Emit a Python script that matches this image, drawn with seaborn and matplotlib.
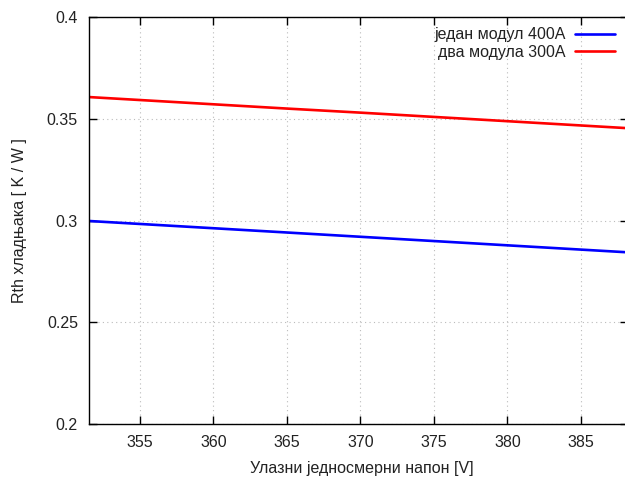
import numpy as np
import pandas as pd
import matplotlib
matplotlib.use("Agg")
import matplotlib.pyplot as plt
import seaborn as sns

# Data
voltage = [350, 355, 360, 365, 370, 375, 380, 385, 390]
rth_one_400 = [0.3004, 0.2983, 0.2962, 0.2941, 0.2920, 0.2899, 0.2878, 0.2857, 0.2836]
rth_two_300 = [0.3613, 0.3592, 0.3571, 0.3550, 0.3530, 0.3509, 0.3488, 0.3467, 0.3446]
series_names = ["један модул 400A", "два модула 300A"]
x_ticks = [355, 360, 365, 370, 375, 380, 385]
y_ticks = [0.2, 0.25, 0.3, 0.35, 0.4]
y_tick_labels = ["0.2", "0.25", "0.3", "0.35", "0.4"]

df = pd.DataFrame({
    "V": voltage * 2,
    "Rth": rth_one_400 + rth_two_300,
    "series": [series_names[0]] * len(voltage) + [series_names[1]] * len(voltage),
})

sns.set_theme(style="white")
plt.rcParams["font.family"] = ["Liberation Sans", "DejaVu Sans"]

FS = 11.5
W, H = 625, 484
fig = plt.figure(figsize=(W / 100, H / 100), dpi=100)
left, right, top, bottom = 89, 628, 17, 424
ax = fig.add_axes([left / W, 1 - bottom / H, (right - left) / W, (bottom - top) / H])

sns.lineplot(data=df, x="V", y="Rth", hue="series", hue_order=series_names,
             palette=["#0000ff", "#ff0000"], linewidth=1.9, ax=ax, legend=True)

ax.set_xlim(351.53, 388.2)
ax.set_ylim(0.2, 0.4)
ax.set_xticks(x_ticks)
ax.set_yticks(y_ticks)
ax.set_yticklabels(y_tick_labels)
ax.grid(True, color="#bbbbbb", linestyle=(0, (1, 3)), linewidth=0.8)
ax.tick_params(axis="both", direction="in", length=6, width=1, color="black",
               labelsize=FS, labelcolor="#222222", top=True, right=True, left=True, bottom=True,
               pad=8)
for s in ax.spines.values():
    s.set_color("black")
    s.set_linewidth(1.0)

ax.set_xlabel("Улазни једносмерни напон [V]", fontsize=FS, color="#222222")
ax.set_ylabel("Rth хладњака [ K / W ]", fontsize=FS, color="#222222")
ax.xaxis.set_label_coords((362 - left) / (right - left), -(468 - bottom) / (bottom - top))
ax.yaxis.set_label_coords(-(89 - 20) / (right - left), 0.5)
ax.xaxis.label.set_va("center")
ax.yaxis.label.set_va("center")

leg = ax.legend(loc="upper right", bbox_to_anchor=((621 - left) / (right - left), 1 - 4 / (bottom - top)),
                frameon=False, markerfirst=False, fontsize=FS, handlelength=2.5,
                handletextpad=0.55, labelspacing=0.15, borderaxespad=0)
for t in leg.get_texts():
    t.set_ha("right")
    t.set_color("#222222")

fig.savefig("out.png", dpi=100)
